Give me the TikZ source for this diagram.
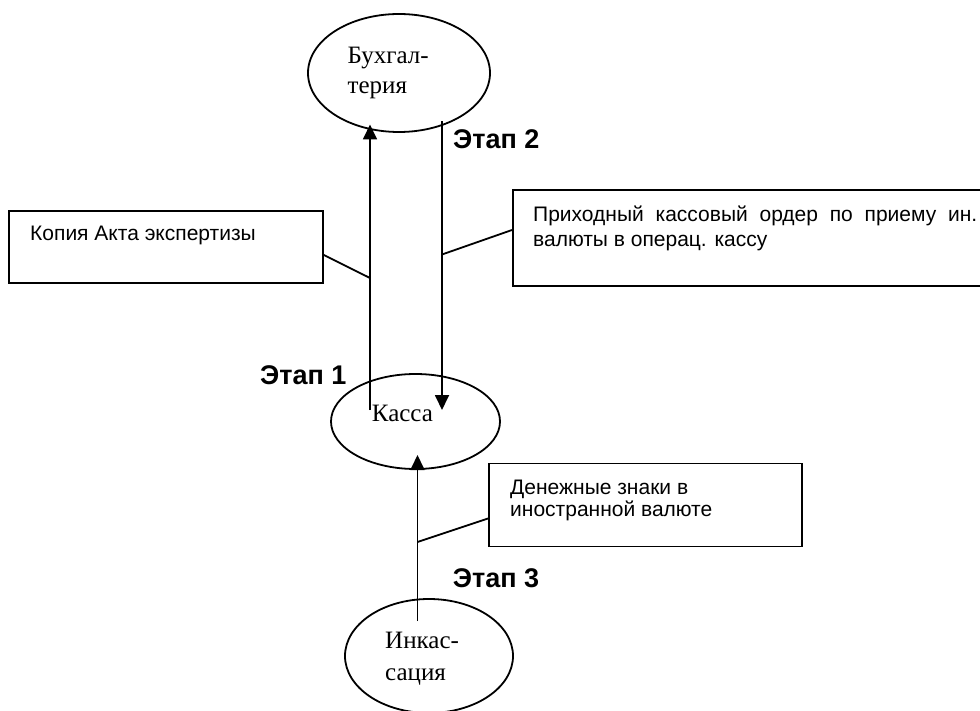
\documentclass[tikz,border=0pt]{standalone}
\usepackage{fontspec}
\setmainfont{Liberation Serif}
\newfontfamily\arialf{Liberation Sans}
\usetikzlibrary{shapes.geometric,arrows.meta}
\begin{document}
\begin{tikzpicture}[x=1pt,y=-1pt,
  lw/.style={line width=1.8pt},
  oval/.style={draw,lw,ellipse,inner sep=0pt},
  boxst/.style={draw,lw,rectangle,inner sep=0pt,anchor=north west},
  tnr/.style={anchor=base west,inner sep=0pt,font=\fontsize{25}{30}\selectfont},
  ari/.style={anchor=base west,inner sep=0pt,font=\arialf\fontsize{21}{25}\selectfont},
  stage/.style={anchor=base west,inner sep=0pt,font=\arialf\bfseries\fontsize{27}{32}\selectfont},
  conn/.style={lw},
  arr/.style={lw,-{Triangle[length=15pt,width=14pt]}}]
\useasboundingbox (0,0) rectangle (980,711);
% ellipses
\node[oval,minimum width=182pt,minimum height=118pt] (buh) at (399,73) {};
\node[oval,minimum width=169pt,minimum height=95pt] (kassa) at (415.5,421.5) {};
\node[oval,minimum width=168pt,minimum height=114pt] (ink) at (429,656) {};
\node[tnr] (buh1) at (347.5,63.5) {Бухгал-};
\node[tnr] (buh2) at (347.5,93.5) {терия};
\node[tnr] (kassat) at (371.7,421) {Касса};
\node[tnr] (ink1) at (385,648) {Инкас-};
\node[tnr] (ink2) at (385,680) {сация};
% boxes
\node[boxst,minimum width=314pt,minimum height=72pt] (kop) at (8,210) {};
\node[boxst,minimum width=480pt,minimum height=96pt] (prih) at (512,189) {};
\node[boxst,minimum width=313pt,minimum height=83pt] (den) at (488,462.5) {};
\node[ari] (kopt) at (30,241) {Копия Акта экспертизы};
\node[ari] (prih1) at (533,221.7) {\makebox[444pt][s]{Приходный кассовый ордер по приему ин.}};
\node[ari] (prih2) at (533,247) {валюты в операц. кассу};
\node[ari] (den1) at (510,494) {Денежные знаки в};
\node[ari] (den2) at (510,516.7) {иностранной валюте};
% stage labels
\node[stage] (st1) at (260,384) {Этап 1};
\node[stage] (st2) at (453,149) {Этап 2};
\node[stage] (st3) at (452.7,587) {Этап 3};
% arrow coordinates
\coordinate (a1s) at (370,410);
\coordinate (a1e) at (370,124.5);
\coordinate (a2s) at (442,121.5);
\coordinate (a2e) at (442,410);
\coordinate (a3s) at (417.5,621);
\coordinate (a3e) at (417.5,455);
\coordinate (j1) at (370,278);
\coordinate (j2) at (442,254.5);
\coordinate (j3) at (417.5,542);
\draw[arr] (a1s) -- (a1e);
\draw[arr] (a2s) -- (a2e);
\draw[arr] (a3s) -- (a3e);
\draw[conn] (kop.east |- 0,255) -- (j1);
\draw[conn] (prih.west |- 0,230) -- (j2);
\draw[conn] (den.west |- 0,518.5) -- (j3);
\end{tikzpicture}
\end{document}
